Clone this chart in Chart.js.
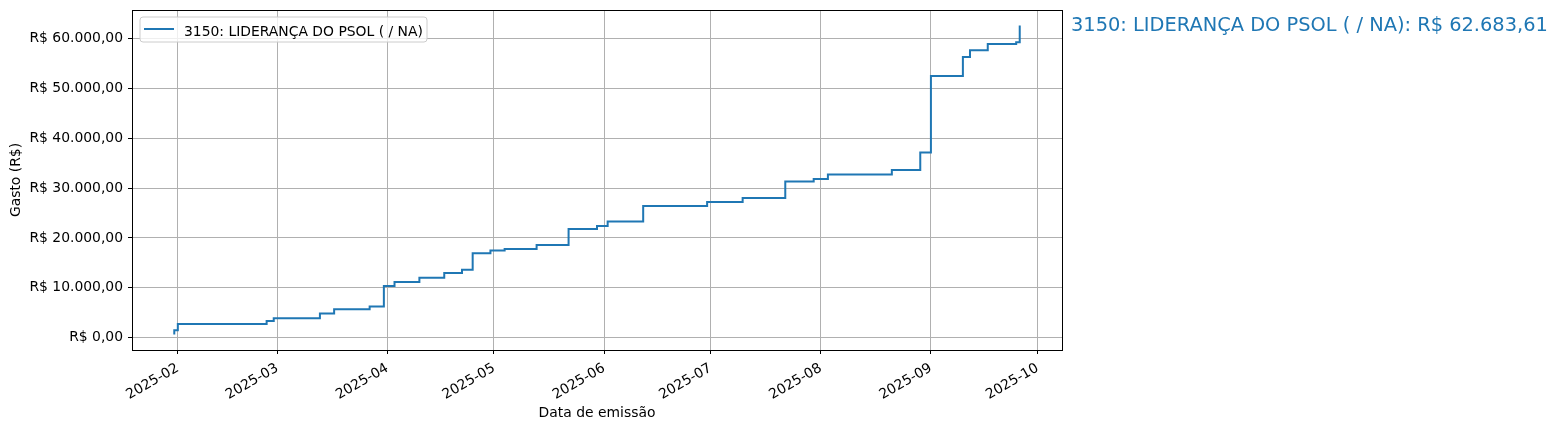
<!DOCTYPE html>
<html>
<head>
<meta charset="utf-8">
<script src="https://cdn.jsdelivr.net/npm/chart.js@4.4.1/dist/chart.umd.min.js"></script>
<style>
  html, body { margin: 0; padding: 0; background: #fff; }
  canvas { display: block; }
</style>
</head>
<body>
<canvas id="chart" width="1559" height="430"></canvas>
<script>
// dates of each step and cumulative spending (R$)
const dates = [
  '2025-01-31', '2025-01-31', '2025-02-01', '2025-02-26', '2025-02-28',
  '2025-03-13', '2025-03-17', '2025-03-27', '2025-03-31', '2025-04-03',
  '2025-04-10', '2025-04-17', '2025-04-22', '2025-04-25', '2025-04-30',
  '2025-05-04', '2025-05-13', '2025-05-22', '2025-05-30', '2025-06-02',
  '2025-06-12', '2025-06-30', '2025-07-10', '2025-07-22', '2025-07-30',
  '2025-08-03', '2025-08-21', '2025-08-29', '2025-09-01', '2025-09-10',
  '2025-09-12', '2025-09-17', '2025-09-25', '2025-09-26'
];
const cumulative = [
  600, 1470, 2730, 3330, 3870,
  4820, 5680, 6220, 10330, 11170,
  11990, 12970, 13620, 16950, 17470,
  17790, 18590, 21810, 22410, 23290,
  26430, 27230, 28030, 31320, 31850,
  32730, 33650, 37150, 52530, 56340,
  57690, 58950, 59300, 62683.61
];
const monthTicks = ['2025-02', '2025-03', '2025-04', '2025-05', '2025-06', '2025-07', '2025-08', '2025-09', '2025-10'];
const yTicks = [0, 10000, 20000, 30000, 40000, 50000, 60000];
const seriesLabel = '3150: LIDERANÇA DO PSOL ( / NA)';

const BLUE = '#1f77b4';
const FONT = 'DejaVu Sans';

function toTime(s) {
  const p = s.split('-').map(Number);
  return Date.UTC(p[0], p[1] - 1, p[2] || 1);
}

function brl(v) {
  const neg = v < 0;
  const parts = Math.abs(v).toFixed(2).split('.');
  const intPart = parts[0].replace(/\B(?=(\d{3})+(?!\d))/g, '.');
  return 'R$ ' + (neg ? '-' : '') + intPart + ',' + parts[1];
}

const points = dates.map((d, i) => ({ x: toTime(d), y: cumulative[i] }));

// matplotlib-like 5% margins
const xs = points.map(p => p.x);
const ys = points.map(p => p.y);
const xMinD = Math.min(...xs), xMaxD = Math.max(...xs);
const yMinD = Math.min(...ys), yMaxD = Math.max(...ys);
const xPad = (xMaxD - xMinD) * 0.05;
const yPad = (yMaxD - yMinD) * 0.05;

const monthLabelByTime = {};
monthTicks.forEach(m => { monthLabelByTime[toTime(m)] = m; });

const framePlugin = {
  id: 'frame',
  afterDraw(chart) {
    const ctx = chart.ctx;
    const a = chart.chartArea;
    ctx.save();

    // axes frame
    ctx.strokeStyle = '#000';
    ctx.lineWidth = 1;
    ctx.strokeRect(Math.round(a.left) + 0.5, Math.round(a.top) + 0.5,
      Math.round(a.right - a.left), Math.round(a.bottom - a.top));

    // legend box
    const bx = a.left + 8, by = a.top + 7, bw = 287, bh = 25, r = 3;
    ctx.beginPath();
    ctx.moveTo(bx + r, by);
    ctx.lineTo(bx + bw - r, by);
    ctx.quadraticCurveTo(bx + bw, by, bx + bw, by + r);
    ctx.lineTo(bx + bw, by + bh - r);
    ctx.quadraticCurveTo(bx + bw, by + bh, bx + bw - r, by + bh);
    ctx.lineTo(bx + r, by + bh);
    ctx.quadraticCurveTo(bx, by + bh, bx, by + bh - r);
    ctx.lineTo(bx, by + r);
    ctx.quadraticCurveTo(bx, by, bx + r, by);
    ctx.closePath();
    ctx.fillStyle = 'rgba(255,255,255,0.8)';
    ctx.fill();
    ctx.strokeStyle = '#cccccc';
    ctx.lineWidth = 1;
    ctx.stroke();

    ctx.beginPath();
    ctx.moveTo(bx + 4, by + 12);
    ctx.lineTo(bx + 34, by + 12);
    ctx.strokeStyle = BLUE;
    ctx.lineWidth = 2;
    ctx.stroke();

    ctx.fillStyle = '#000';
    ctx.font = '13.9px "' + FONT + '"';
    ctx.textAlign = 'left';
    ctx.textBaseline = 'alphabetic';
    ctx.fillText(seriesLabel, bx + 44, by + 18.5);

    // final value annotation
    const last = cumulative[cumulative.length - 1];
    const yPix = chart.scales.y.getPixelForValue(last);
    ctx.fillStyle = BLUE;
    ctx.font = '19.4px "' + FONT + '"';
    ctx.fillText(seriesLabel + ': ' + brl(last), a.right + 9, yPix + 5.5);

    ctx.restore();
  }
};

new Chart(document.getElementById('chart'), {
  type: 'line',
  data: {
    datasets: [{
      label: seriesLabel,
      data: points,
      borderColor: BLUE,
      borderWidth: 2,
      pointRadius: 0,
      fill: false,
      stepped: 'before'
    }]
  },
  options: {
    responsive: false,
    animation: false,
    devicePixelRatio: 1,
    layout: { padding: { left: 0, top: 10, right: 497, bottom: 0 } },
    plugins: {
      legend: { display: false },
      tooltip: { enabled: false }
    },
    scales: {
      x: {
        type: 'linear',
        min: xMinD - xPad,
        max: xMaxD + xPad,
        afterBuildTicks(scale) {
          scale.ticks = monthTicks.map(m => ({ value: toTime(m) }));
        },
        afterFit(scale) {
          scale.height = 80;
          scale.paddingLeft = 0;
          scale.paddingRight = 0;
        },
        ticks: {
          autoSkip: false,
          minRotation: 30,
          maxRotation: 30,
          padding: 6,
          color: '#000',
          font: { family: FONT, size: 13.9 },
          callback: v => monthLabelByTime[v] || ''
        },
        grid: { color: '#b0b0b0', lineWidth: 1, tickColor: '#000', tickLength: 4 },
        border: { display: false },
        title: {
          display: true,
          text: 'Data de emissão',
          color: '#000',
          font: { family: FONT, size: 13.9 },
          padding: { top: 4, bottom: 8 }
        }
      },
      y: {
        type: 'linear',
        min: yMinD - yPad,
        max: yMaxD + yPad,
        afterBuildTicks(scale) {
          scale.ticks = yTicks.map(v => ({ value: v }));
        },
        afterFit(scale) {
          scale.width = 132;
          scale.paddingTop = 0;
          scale.paddingBottom = 0;
        },
        ticks: {
          padding: 5,
          color: '#000',
          font: { family: FONT, size: 13.9 },
          callback: v => brl(v)
        },
        grid: { color: '#b0b0b0', lineWidth: 1, tickColor: '#000', tickLength: 4 },
        border: { display: false },
        title: {
          display: true,
          text: 'Gasto (R$)',
          color: '#000',
          font: { family: FONT, size: 13.9 },
          padding: { top: 8, bottom: 4 }
        }
      }
    }
  },
  plugins: [framePlugin]
});
</script>
</body>
</html>
